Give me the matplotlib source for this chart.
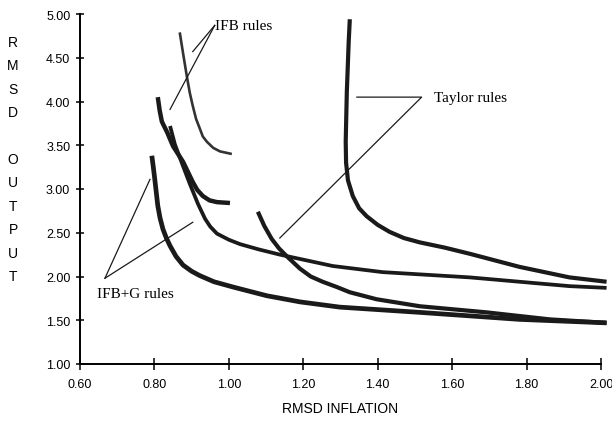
import matplotlib
matplotlib.use("Agg")
import matplotlib.pyplot as plt

# IFB rules
ifb_a_x = [0.868, 0.877, 0.887, 0.895, 0.903, 0.912, 0.922, 0.930, 0.941, 0.958, 0.976, 1.008]
ifb_a_y = [4.79, 4.55, 4.29, 4.10, 3.95, 3.80, 3.69, 3.60, 3.54, 3.47, 3.43, 3.40]
ifb_b_x = [0.809, 0.814, 0.820, 0.834, 0.850, 0.877, 0.903, 0.915, 0.930, 0.948, 0.968, 1.003]
ifb_b_y = [4.05, 3.90, 3.77, 3.65, 3.49, 3.31, 3.08, 2.99, 2.92, 2.87, 2.85, 2.84]

# IFB+G rules
ifbg_c_x = [0.842, 0.855, 0.877, 0.895, 0.917, 0.936, 0.950, 0.968, 1.000, 1.030, 1.080,
            1.137, 1.279, 1.413, 1.647, 1.781, 1.915, 2.015]
ifbg_c_y = [3.72, 3.51, 3.26, 3.06, 2.83, 2.66, 2.57, 2.49, 2.42, 2.37, 2.31,
            2.25, 2.12, 2.05, 1.99, 1.94, 1.89, 1.87]
ifbg_d_x = [0.793, 0.797, 0.801, 0.809, 0.815, 0.823, 0.832, 0.842, 0.858, 0.877, 0.900,
            0.922, 0.960, 1.011, 1.102, 1.191, 1.298, 1.513, 1.647, 1.781, 2.015]
ifbg_d_y = [3.38, 3.25, 3.11, 2.81, 2.67, 2.54, 2.44, 2.35, 2.23, 2.13, 2.06,
            2.01, 1.94, 1.88, 1.78, 1.71, 1.65, 1.59, 1.55, 1.51, 1.47]

# Taylor rules
taylor_e_x = [1.078, 1.095, 1.115, 1.135, 1.156, 1.191, 1.220, 1.252, 1.290, 1.325,
              1.397, 1.513, 1.693, 1.862, 2.015]
taylor_e_y = [2.74, 2.58, 2.43, 2.32, 2.23, 2.09, 2.00, 1.94, 1.88, 1.82,
              1.74, 1.66, 1.59, 1.51, 1.47]
taylor_f_x = [1.325, 1.322, 1.317, 1.314, 1.315, 1.320, 1.333, 1.350, 1.370, 1.400,
              1.432, 1.470, 1.513, 1.580, 1.647, 1.781, 1.915, 2.015]
taylor_f_y = [4.94, 4.68, 4.11, 3.54, 3.30, 3.10, 2.92, 2.78, 2.69, 2.59,
              2.51, 2.44, 2.39, 2.33, 2.26, 2.11, 1.99, 1.94]

xticks = [0.6, 0.8, 1.0, 1.2, 1.4, 1.6, 1.8, 2.0]
yticks = [1.0, 1.5, 2.0, 2.5, 3.0, 3.5, 4.0, 4.5, 5.0]

sans = "Liberation Sans"
serif = "Liberation Serif"

fig = plt.figure(figsize=(6.12, 4.27), dpi=100)
ax = fig.add_axes([80 / 612, 62 / 427, 521 / 612, 350 / 427])

ink = "#1a1a1a"
style = dict(solid_capstyle="butt", solid_joinstyle="round", clip_on=False)
ax.plot(ifb_a_x, ifb_a_y, color="#333333", lw=1.9, **style)
ax.plot(ifb_b_x, ifb_b_y, color=ink, lw=3.2, **style)
ax.plot(ifbg_c_x, ifbg_c_y, color=ink, lw=2.7, **style)
ax.plot(ifbg_d_x, ifbg_d_y, color=ink, lw=3.4, **style)
ax.plot(taylor_e_x, taylor_e_y, color=ink, lw=3.0, **style)
ax.plot(taylor_f_x, taylor_f_y, color=ink, lw=3.0, **style)

# annotation pointer lines
lw_ptr = 0.9
ax.plot([0.962, 0.903], [4.87, 4.57], color=ink, lw=lw_ptr)
ax.plot([0.962, 0.842], [4.87, 3.91], color=ink, lw=lw_ptr)
ax.plot([0.667, 0.788], [1.98, 3.11], color=ink, lw=lw_ptr)
ax.plot([0.667, 0.903], [1.98, 2.62], color=ink, lw=lw_ptr)
ax.plot([1.344, 1.518, 1.137], [4.05, 4.05, 2.44], color=ink, lw=lw_ptr)

ax.text(0.963, 4.87, "IFB rules", family=serif, fontsize=11, va="center", ha="left")
ax.text(0.645, 1.81, "IFB+G rules", family=serif, fontsize=11, va="center", ha="left")
ax.text(1.552, 4.05, "Taylor rules", family=serif, fontsize=11, va="center", ha="left")

ax.set_xlim(0.6, 2.0)
ax.set_ylim(1.0, 5.0)
ax.set_xticks(xticks)
ax.set_yticks(yticks)
ax.set_xticklabels([f"{v:.2f}" for v in xticks], family=sans, fontsize=9)
ax.set_yticklabels([f"{v:.2f}" for v in yticks], family=sans, fontsize=9)
ax.tick_params(axis="x", direction="inout", length=8, width=1.1, pad=6)
ax.tick_params(axis="y", direction="inout", length=6, width=1.1, pad=4)

for side in ["top", "right"]:
    ax.spines[side].set_visible(False)
for side in ["left", "bottom"]:
    ax.spines[side].set_linewidth(1.4)

ax.set_xlabel("RMSD INFLATION", family=sans, fontsize=10, labelpad=8)

ylab = "RMSD OUTPUT"
for i, ch in enumerate(ylab):
    fig.text(13 / 612, 1 - (43 + 23.4 * i) / 427, ch, family=sans, fontsize=10,
             ha="center", va="center")

fig.savefig("out.png", dpi=100)
